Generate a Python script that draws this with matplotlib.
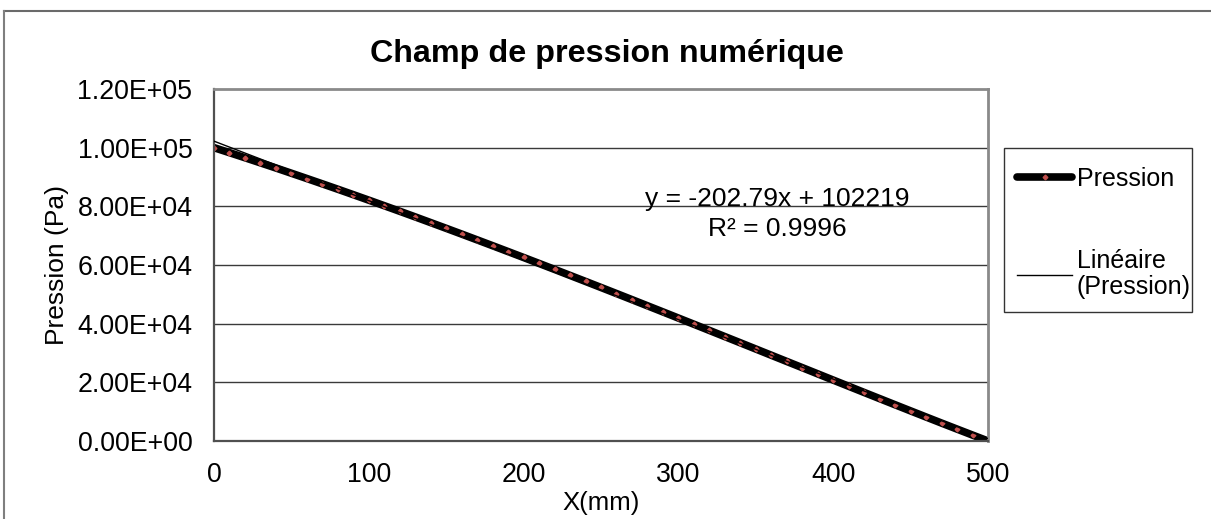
import matplotlib
matplotlib.use("Agg")
import matplotlib.pyplot as plt
from matplotlib.lines import Line2D
from matplotlib.patches import Rectangle
import numpy as np

plt.rcParams['font.family'] = ['Liberation Sans', 'DejaVu Sans']

# Data
x_mm = [0, 10, 20, 30, 40, 50, 60, 70, 80, 90,
        100, 110, 120, 130, 140, 150, 160, 170, 180, 190,
        200, 210, 220, 230, 240, 250, 260, 270, 280, 290,
        300, 310, 320, 330, 340, 350, 360, 370, 380, 390,
        400, 410, 420, 430, 440, 450, 460, 470, 480, 490, 500]
pression = [100000, 98300, 96570, 94830, 93070, 91280, 89480, 87660, 85830, 83970,
            82100, 80210, 78310, 76390, 74450, 72500, 70540, 68560, 66570, 64570,
            62560, 60530, 58500, 56450, 54400, 52340, 50270, 48190, 46100, 44010,
            41910, 39810, 37700, 35590, 33480, 31360, 29240, 27120, 25010, 22890,
            20770, 18660, 16550, 14450, 12350, 10260, 8180, 6110, 4060, 2020, 0]

# Trendline (from chart label)
slope = -202.79
intercept = 102219
r2 = 0.9996

yticks = [0, 20000, 40000, 60000, 80000, 100000, 120000]
ytick_labels = ["0.00E+00", "2.00E+04", "4.00E+04", "6.00E+04", "8.00E+04", "1.00E+05", "1.20E+05"]
xticks = [0, 100, 200, 300, 400, 500]

W, H = 1211, 519
fig = plt.figure(figsize=(W / 100, H / 100), dpi=100)
fig.patch.set_facecolor('white')

# outer chart frame
fig.add_artist(Line2D([3.5 / W, 1.0], [1 - 11 / H, 1 - 11 / H], transform=fig.transFigure,
                      color='#6a6a6a', lw=1.5))
fig.add_artist(Line2D([3.5 / W, 3.5 / W], [0, 1 - 11 / H], transform=fig.transFigure,
                      color='#7f7f7f', lw=1.5))

ax = fig.add_axes([214 / W, 1 - 441 / H, (988 - 214) / W, (441 - 89) / H])
ax.set_xlim(0, 500)
ax.set_ylim(0, 120000)

for yv in yticks[1:-1]:
    ax.axhline(yv, color='#3a3a3a', lw=1.0, zorder=1)

fit_x = np.array([0, 500])
ax.plot(fit_x, intercept + slope * fit_x, color='black', lw=1.0, zorder=3,
        label='Linéaire\n(Pression)')
ax.plot(x_mm, pression, color='black', lw=5.5, solid_capstyle='round', zorder=2,
        marker='D', markersize=2.4, markerfacecolor='#c0504d', markeredgecolor='#c0504d',
        label='Pression')

ax.set_xticks(xticks)
ax.set_xticklabels([str(v) for v in xticks])
ax.set_yticks(yticks)
ax.set_yticklabels(ytick_labels)
ax.tick_params(axis='both', length=0, labelsize=19.3, colors='black')
ax.tick_params(axis='x', pad=15)
ax.tick_params(axis='y', pad=15.5)

ax.spines['left'].set_color('#505050')
ax.spines['left'].set_linewidth(1.6)
ax.spines['bottom'].set_color('#505050')
ax.spines['bottom'].set_linewidth(1.6)
ax.spines['top'].set_color('#8a8a8a')
ax.spines['top'].set_linewidth(2)
ax.spines['right'].set_color('#8a8a8a')
ax.spines['right'].set_linewidth(2)

ax.set_xlabel('X(mm)', fontsize=18.5, labelpad=2)
ax.set_ylabel('Pression (Pa)', fontsize=19, labelpad=6)

fig.text(607 / W, 1 - 54 / H, 'Champ de pression numérique', ha='center', va='center',
         fontsize=23.2, fontweight='bold')

fig.text(777 / W, 1 - 214 / H, f'y = {slope}x + {intercept}\nR² = {r2}', ha='center',
         va='center', multialignment='center', fontsize=19, linespacing=1.3)

handles, labels = ax.get_legend_handles_labels()
order = [1, 0]
leg = fig.legend([handles[i] for i in order], [labels[i] for i in order],
                 loc='upper left', bbox_to_anchor=(1017 / W, 1 - 167 / H),
                 bbox_transform=fig.transFigure, frameon=False,
                 fontsize=18, handlelength=2.2, handletextpad=0.2,
                 labelspacing=2.3, borderpad=0, borderaxespad=0)
for t in leg.get_texts():
    t.set_linespacing(1.15)

fig.add_artist(Rectangle((1004 / W, 1 - 312 / H), (1192 - 1004) / W, (312 - 148) / H,
                         transform=fig.transFigure, fill=False, edgecolor='#333333', lw=1.0))

fig.savefig('out.png', dpi=100, facecolor='white')
